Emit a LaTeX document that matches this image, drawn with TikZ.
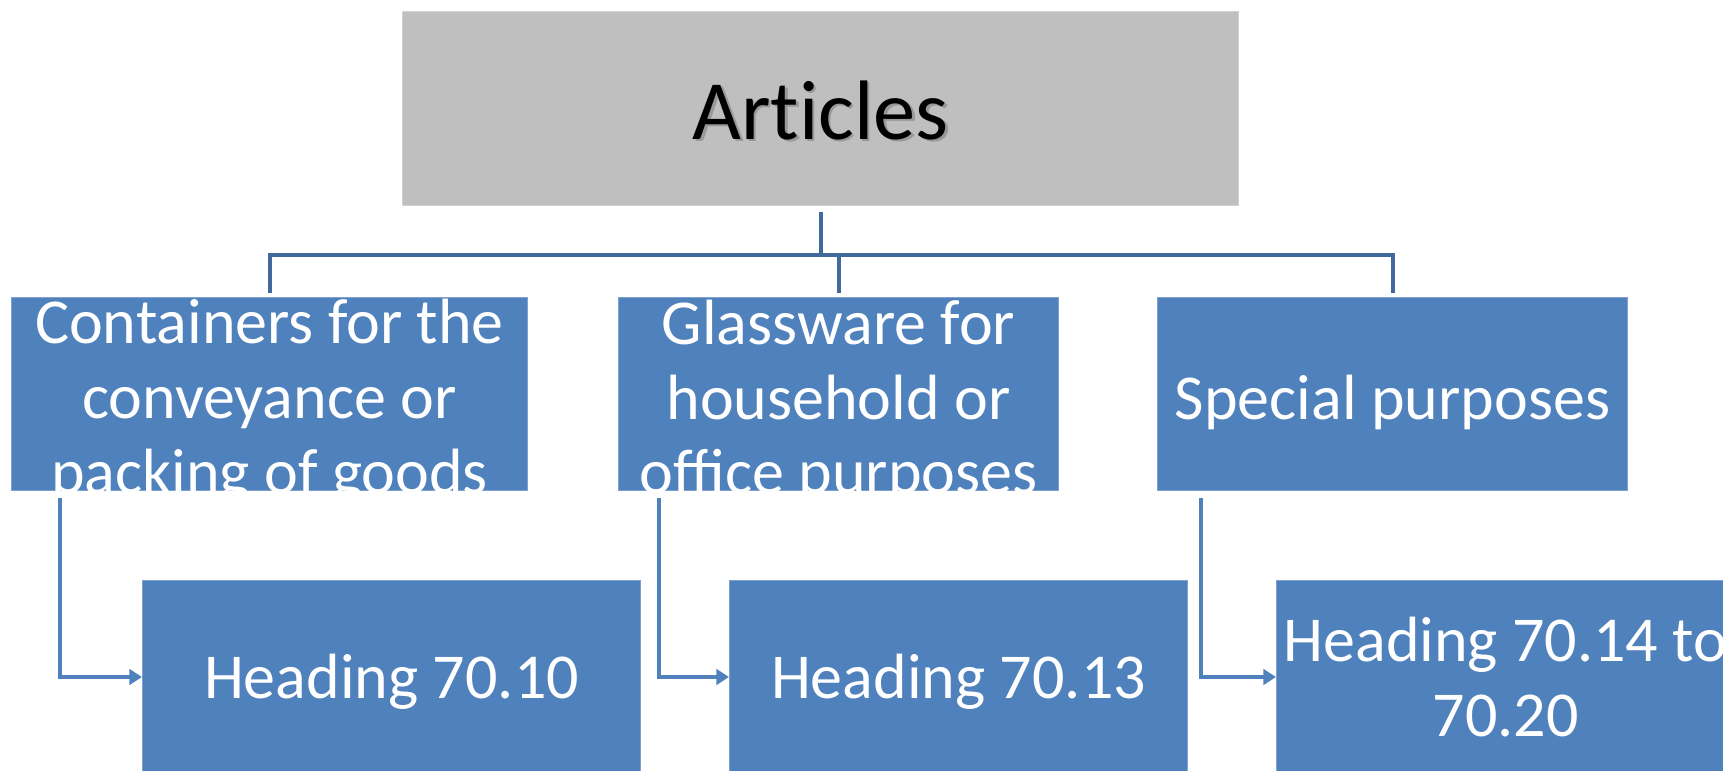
\documentclass[tikz,border=0pt]{standalone}
\usepackage{fontspec}
\setmainfont{Carlito}
\usetikzlibrary{calc,arrows.meta}
\definecolor{boxblue}{HTML}{4F81BD}
\definecolor{boxedge}{HTML}{7EA1CF}
\definecolor{treeblue}{HTML}{41699B}
\definecolor{greyfill}{HTML}{BFBFBF}
\definecolor{greyedge}{HTML}{D2D2D2}
\begin{document}
\begin{tikzpicture}[x=0.01cm,y=-0.01cm,
  bluebox/.style={draw=boxedge,line width=0.3pt,fill=boxblue,minimum width=#1*0.01cm,minimum height=193*0.01cm,inner sep=0pt,anchor=north west},
  boxtext/.style={text=white,font=\fontsize{18.2}{21.3}\selectfont,align=center,inner sep=0pt},
  tree/.style={draw=treeblue,line width=1.15pt},
  elbow/.style={draw=boxblue,line width=0.9pt,-{Triangle[length=3.6pt,width=4.4pt]}}]
\useasboundingbox (0,0) rectangle (1723,771);
\clip (0,0) rectangle (1723,771);
% top box
\node[draw=greyedge,line width=0.3pt,fill=greyfill,minimum width=836*0.01cm,minimum height=194*0.01cm,inner sep=0pt,anchor=north west] (art) at (402,11) {};
\node[text=black!55,opacity=0.5,font=\fontsize{24}{28}\selectfont] (artsh) at ($(art.center)+(2.5,4)$) {Art\kern0pt icles};
\node[text=black,font=\fontsize{24}{28}\selectfont] (artt) at ($(art.center)+(0,2)$) {Art\kern0pt icles};
% level 2
\node[bluebox=516] (b1) at (11,297) {};
\node[bluebox=440] (b2) at (618,297) {};
\node[bluebox=470] (b3) at (1157,297) {};
\begin{scope}
\clip (b1.north west) rectangle (b1.south east);
\node[boxtext] (t1) at ($(b1.center)+(0,8)$) {Containers for the\\conveyance or\\packing of goods};
\end{scope}
\begin{scope}
\clip (b2.north west) rectangle (b2.south east);
\node[boxtext] (t2) at ($(b2.center)+(0,8)$) {Glassware for\\household or\\office purposes};
\end{scope}
\node[boxtext] (t3) at ($(b3.center)+(0,8)$) {Special purposes};
% level 3
\node[bluebox=498] (c1) at (142,580) {};
\node[bluebox=458] (c2) at (729,580) {};
\node[bluebox=458] (c3) at (1276,580) {};
\node[boxtext] (u1) at ($(c1.center)+(0,5)$) {Heading 70.10};
\node[boxtext] (u2) at ($(c2.center)+(0,5)$) {Heading 70.13};
\node[boxtext] (u3) at (c3.center) {Heading 70.14 to\\70.20};
% tree connectors
\coordinate (bar) at (820,255);
\draw[tree] ($(art.south)+(0,6)$) -- (art.south |- bar);
\draw[tree] ($(b1.north)+(0,-4)$) -- (b1.north |- bar) -- (b3.north |- bar) -- ($(b3.north)+(0,-4)$);
\draw[tree] (b2.north |- bar) -- ($(b2.north)+(0,-4)$);
% elbow arrows
\draw[elbow] ($(b1.south west)+(49,7)$) |- (c1.west);
\draw[elbow] ($(b2.south west)+(41,7)$) |- (c2.west);
\draw[elbow] ($(b3.south west)+(44,7)$) |- (c3.west);
\end{tikzpicture}
\end{document}
